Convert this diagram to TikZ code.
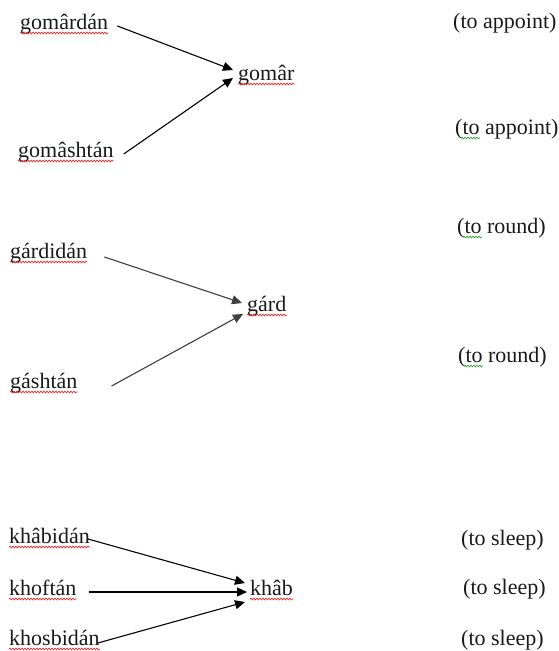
\documentclass[tikz,border=0pt]{standalone}
\usepackage{fontspec}
\setmainfont{Liberation Serif}
\usetikzlibrary{arrows.meta, decorations.pathmorphing}
\definecolor{mtext}{HTML}{1A1A1A}
\definecolor{mred}{HTML}{E03030}
\definecolor{mgreen}{HTML}{40A040}
\tikzstyle{word} = [inner sep=0pt, anchor=base west, text=mtext, font=\fontsize{22pt}{26pt}\selectfont]
\tikzstyle{gloss} = [inner sep=0pt, anchor=base west, text=mtext, font=\fontsize{22pt}{26pt}\selectfont]
\tikzstyle{link} = [line width=1.1pt, -{Triangle[length=10pt,width=9pt]}]
\tikzstyle{spell} = [draw=mred, line width=0.7pt, decorate, decoration={snake, amplitude=0.9pt, segment length=3pt}]
\tikzstyle{grammar} = [spell, draw=mgreen]

\begin{document}
\begin{tikzpicture}[x=1pt, y=-1pt]
  \useasboundingbox[fill=white] (0,0) rectangle (558,651);
  % first group
  \node (gmd) [word] at (20,29) {gomârdán};
  \node (gms) [word] at (18,157) {gomâshtán};
  \node (gm) [word] at (238,80) {gomâr};
  \node (ap1) [gloss] at (453,28) {(to appoint)};
  \node (ap2) [gloss] at (455,134) {(to appoint)};
  % second group
  \node (gdd) [word] at (10,258) {gárdidán};
  \node (gsh) [word] at (10,388) {gáshtán};
  \node (gd) [word] at (247,311) {gárd};
  \node (rd1) [gloss] at (457,233) {(to round)};
  \node (rd2) [gloss] at (458,362) {(to round)};
  % third group
  \node (kbd) [word] at (9,543) {khâbidán};
  \node (kft) [word] at (9,595) {khoftán};
  \node (ksb) [word] at (9,645) {khosbidán};
  \node (kb) [word] at (250,595) {khâb};
  \node (sl1) [gloss] at (461,545) {(to sleep)};
  \node (sl2) [gloss] at (463,594) {(to sleep)};
  \node (sl3) [gloss] at (461,645) {(to sleep)};

  \draw [link] ([shift={(9,-3)}]gmd.base east) -- ([shift={(-5,-10)}]gm.base west);
  \draw [link] ([shift={(10,-3)}]gms.base east) -- ([shift={(-5,-2)}]gm.base west);
  \draw [link, draw=black!75] ([shift={(17,-1)}]gdd.base east) -- ([shift={(-5,-8)}]gd.base west);
  \draw [link, draw=black!75] ([shift={(34,-2)}]gsh.base east) -- ([shift={(-4,3)}]gd.base west);
  \draw [link] ([shift={(-2,-4)}]kbd.base east) -- ([shift={(-5,-12)}]kb.base west);
  \draw [link] ([shift={(12,-3)}]kft.base east) -- ([shift={(-3,-3)}]kb.base west);
  \draw [link] ([shift={(-2,-2)}]ksb.base east) -- ([shift={(-5,7)}]kb.base west);

  % spell-check marks
  \foreach \w in {gmd, gms, gm, gdd, gsh, gd, kbd, kft, ksb, kb}
    \draw [spell] ([yshift=-4pt]\w.base west) -- ([yshift=-4pt]\w.base east);
  \foreach \w in {ap2, rd1, rd2}
    \draw [grammar] ([shift={(6,4)}]\w.base west) -- ([shift={(25,4)}]\w.base west);
\end{tikzpicture}
\end{document}
